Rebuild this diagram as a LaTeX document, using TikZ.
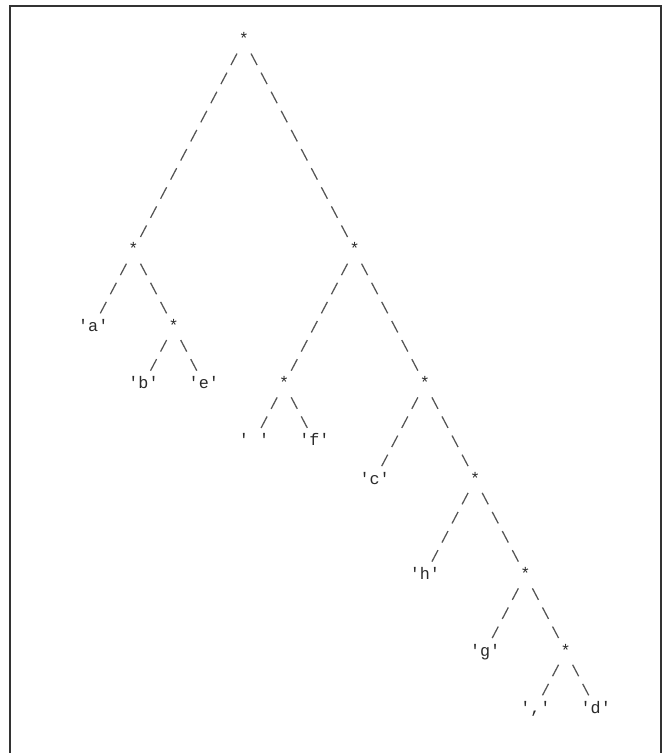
\documentclass[tikz,border=0pt]{standalone}
\usepackage{fontspec}
\setmonofont{Liberation Mono}
\usetikzlibrary{positioning}
\definecolor{treeink}{HTML}{2A2A2A}
\definecolor{treeslash}{HTML}{555555}
\definecolor{treeframe}{HTML}{333333}

\begin{document}
\begin{tikzpicture}[
  x=7.5375pt,y=-14.325pt,
  font=\ttfamily\fontsize{12.56}{14}\selectfont,
  knot/.style={inner sep=0pt, text height=.7em, text depth=0pt, text=treeink},
  leaf/.style={inner sep=0pt, text height=.7em, text depth=0pt, text=treeink},
  branch/.style={draw=treeslash, line width=.95pt, shorten <=8.09pt, shorten >=8.09pt,
    dash pattern=on 9.75pt off 6.44pt, dash phase=12.97pt},
  frame/.style={draw=treeframe, line width=1.5pt},
]
\useasboundingbox (-24.28,-2.105) rectangle (42.19,37.32);
\draw[frame] (-23.28,37.32) |- (41.52,-1.79) -- (41.52,37.32);

\node[knot] (n0) at (0,0) {*};
\node[knot] (n1) at (-11,11) {*};
\node[knot] (n2) at (11,11) {*};
\node[leaf] (la) at (-15,15) {'a'};
\node[knot] (n3) at (-7,15) {*};
\node[leaf] (lb) at (-10,18) {'b'};
\node[leaf] (le) at (-4,18) {'e'};
\node[knot] (n4) at (4,18) {*};
\node[knot] (n5) at (18,18) {*};
\node[leaf] (lsp) at (1,21) {'\phantom{x}'};
\node[leaf] (lf) at (7,21) {'f'};
\node[leaf] (lc) at (13,23) {'c'};
\node[knot] (n6) at (23,23) {*};
\node[leaf] (lh) at (18,28) {'h'};
\node[knot] (n7) at (28,28) {*};
\node[leaf] (lg) at (24,32) {'g'};
\node[knot] (n8) at (32,32) {*};
\node[leaf] (lcom) at (29,35) {','};
\node[leaf] (ld) at (35,35) {'d'};

\foreach \a/\b in {n0/n1,n0/n2,n1/la,n1/n3,n3/lb,n3/le,n2/n4,n2/n5,n4/lsp,n4/lf,
  n5/lc,n5/n6,n6/lh,n6/n7,n7/lg,n7/n8,n8/lcom,n8/ld}{\draw[branch] (\a.center) -- (\b.center);}
\end{tikzpicture}
\end{document}
